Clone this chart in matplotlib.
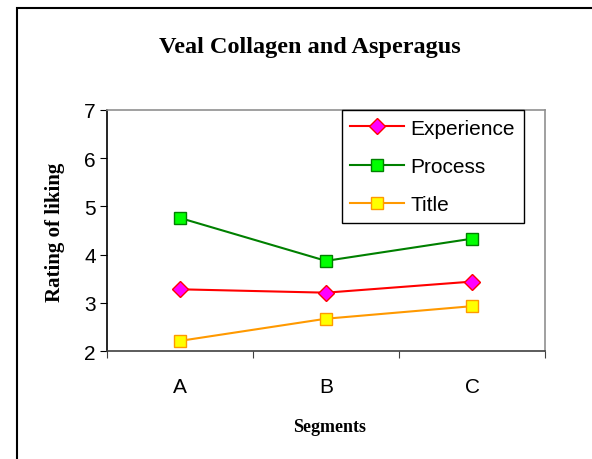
import matplotlib
matplotlib.use("Agg")
import matplotlib.pyplot as plt
from matplotlib.patches import Rectangle

segments = ["A", "B", "C"]
experience = [3.28, 3.21, 3.44]
process = [4.76, 3.87, 4.33]
title_vals = [2.21, 2.67, 2.93]

W, H = 592, 460
fig = plt.figure(figsize=(W / 100, H / 100), dpi=100)
fig.patch.set_facecolor("white")

# outer chart frame (runs off the right and bottom of the picture)
fig.patches.append(Rectangle((17 / W, -0.1), 1.2, (H - 9) / H + 0.1,
                             transform=fig.transFigure, fill=False,
                             edgecolor="black", lw=1.5, clip_on=False))

ax = fig.add_axes([107 / W, 1 - 352 / H, 438 / W, 241 / H])

x = [0.5, 1.5, 2.5]
ax.plot(x, experience, color="#FF0000", lw=1.5, marker="D", ms=8,
        mfc="#FF00FF", mec="#FF0000", mew=1, label="Experience")
ax.plot(x, process, color="#008000", lw=1.5, marker="s", ms=8,
        mfc="#00FF00", mec="#008000", mew=1, label="Process")
ax.plot(x, title_vals, color="#FF9900", lw=1.5, marker="s", ms=8,
        mfc="#FFFF00", mec="#FF9900", mew=1, label="Title")

ax.set_xlim(0, 3)
ax.set_ylim(2, 7)
ax.set_yticks([2, 3, 4, 5, 6, 7])
ax.set_xticks([0, 1, 2, 3])
ax.set_xticklabels([])
ax.set_xticks(x, minor=True)
ax.set_xticklabels(segments, minor=True)
ax.tick_params(axis="x", which="minor", length=0, pad=19, labelsize=15)
ax.tick_params(axis="x", which="major", direction="out", length=5, color="#404040")
ax.tick_params(axis="y", direction="out", length=5, pad=3, labelsize=15)
for lab in ax.get_xticklabels(minor=True) + ax.get_yticklabels():
    lab.set_family("Liberation Sans")

ax.spines["left"].set_color("black")
ax.spines["bottom"].set_color("#404040")
ax.spines["top"].set_color("#909090")
ax.spines["right"].set_color("#909090")
for s in ax.spines.values():
    s.set_linewidth(1.2)

leg = ax.legend(loc="upper right", bbox_to_anchor=(0.952, 1.0), borderaxespad=0,
                prop={"family": "Liberation Sans", "size": 15},
                fancybox=False, framealpha=1, edgecolor="black",
                labelspacing=0.92, handlelength=2.6, handletextpad=0.3,
                borderpad=0.42)
leg.get_frame().set_linewidth(1)

fig.text(310 / W, 1 - 47 / H, "Veal Collagen and Asperagus", ha="center",
         va="center", family="Liberation Serif", weight="bold", fontsize=17.5)
fig.text(55 / W, 1 - 232 / H, "Rating of liking", ha="center", va="center",
         rotation=90, family="Liberation Serif", weight="bold", fontsize=15)
fig.text(330 / W, 1 - 428 / H, "Segments", ha="center", va="center",
         family="Liberation Serif", weight="bold", fontsize=13)

fig.savefig("out.png", dpi=100)
